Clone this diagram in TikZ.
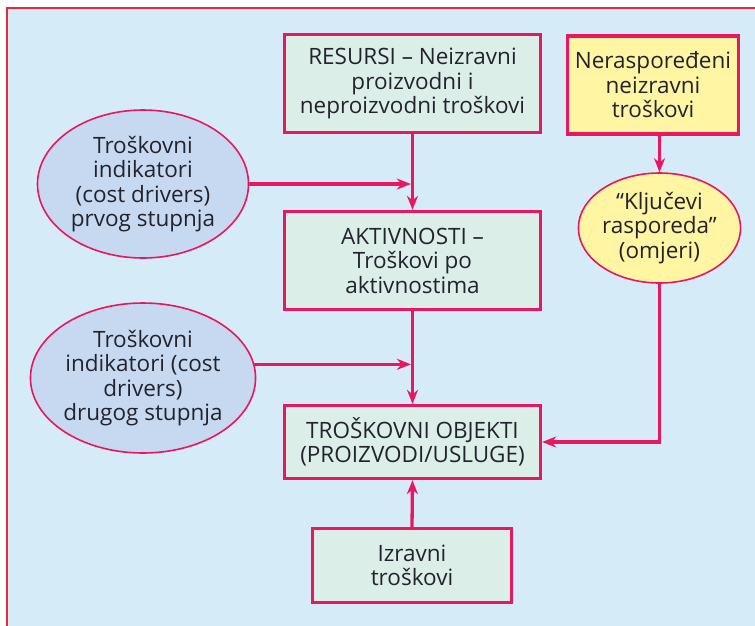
\documentclass[tikz,border=0pt]{standalone}
\usepackage{fontspec}
\setmainfont{Open Sans}
\usetikzlibrary{shapes.geometric,arrows.meta}
\definecolor{bgblue}{HTML}{D6EBF8}
\definecolor{framered}{HTML}{EE2737}
\definecolor{mag}{HTML}{E8175F}
\definecolor{boxfill}{HTML}{DBEEE8}
\definecolor{ellblue}{HTML}{C6D9F0}
\definecolor{ellyellow}{HTML}{FFF5A3}
\definecolor{txt}{HTML}{23232E}
\tikzset{
  every node/.style={font=\fontsize{22.5}{24.5}\selectfont, text=txt, align=center},
  rbox/.style={draw=mag, line width=3.3pt, fill=boxfill, inner sep=0pt},
  ybox/.style={draw=mag, line width=3.3pt, fill=ellyellow, inner sep=0pt},
  bell/.style={ellipse, draw=mag, line width=1.6pt, fill=ellblue, inner sep=0pt},
  yell/.style={ellipse, draw=mag, line width=1.6pt, fill=ellyellow, inner sep=0pt},
  conn/.style={draw=mag, line width=3.3pt, -{Stealth[length=14pt,width=11pt,inset=4.5pt]}}
}
\begin{document}
\begin{tikzpicture}[x=1pt,y=-1pt]
\useasboundingbox (0,0) rectangle (755,625);
\fill[white] (0,0) rectangle (755,625);
\begin{scope}
\clip (0,0) rectangle (755,625);
\draw[framered, line width=2.5pt, fill=bgblue] (7,8) rectangle (770,640);
\end{scope}
\node[rbox, minimum width=256pt, minimum height=98pt] (res) at (412.5,83.5) {RESURSI – Neizravni\\proizvodni i\\neproizvodni troškovi};
\node[ybox, minimum width=171pt, minimum height=98pt] (ner) at (653,85) {Neraspoređeni\\neizravni\\troškovi};
\node[rbox, minimum width=256pt, minimum height=98pt] (akt) at (412.5,260.5) {AKTIVNOSTI –\\Troškovi po\\aktivnostima};
\node[rbox, minimum width=256pt, minimum height=73pt] (tro) at (412.5,442) {TROŠKOVNI OBJEKTI\\(PROIZVODI/USLUGE)};
\node[rbox, minimum width=199pt, minimum height=74pt] (izr) at (412,565.5) {Izravni\\troškovi};
\node[bell, minimum width=211pt, minimum height=148pt] (e1) at (143,184) {Troškovni\\indikatori\\(cost drivers)\\prvog stupnja};
\node[bell, minimum width=211pt, minimum height=150pt] (e2) at (143,378) {Troškovni\\indikatori (cost\\drivers)\\drugog stupnja};
\node[yell, minimum width=158pt, minimum height=110pt] (e3) at (659.5,228) {“Ključevi\\rasporeda”\\(omjeri)};
\coordinate (j1) at (res.south |- e1.east);
\coordinate (j2) at (tro.north |- e2.7);
\coordinate (k) at (e3.south |- tro.east);
\coordinate (n1) at (e3.north |- ner.south);
\draw[conn] (res.south) -- (akt.north);
\draw[conn] (akt.south) -- (tro.north);
\draw[conn, shorten >=1.6pt] (e1.east) -- (j1);
\draw[conn, shorten >=1.6pt] (e2.7) -- (j2);
\draw[conn] (izr.north) -- (tro.south);
\draw[conn] (n1) -- (e3.north);
\draw[conn, line join=miter] (e3.south) -- (k) -- (tro.east);
\end{tikzpicture}
\end{document}
